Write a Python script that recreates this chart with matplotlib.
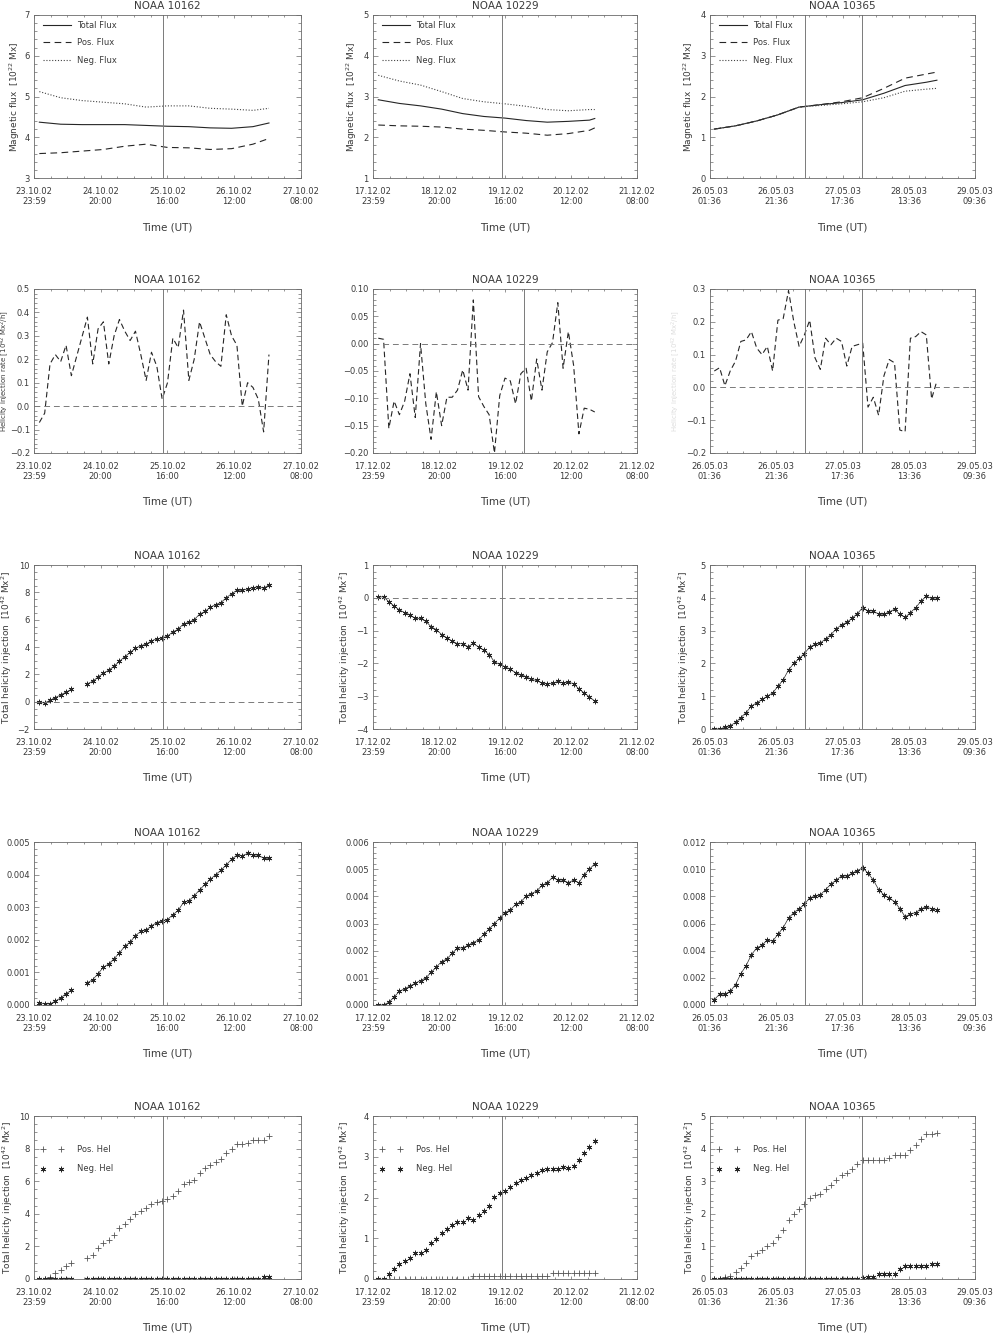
import numpy as np
import matplotlib
matplotlib.use("Agg")
import matplotlib.pyplot as plt
from matplotlib.lines import Line2D
from matplotlib.ticker import MultipleLocator, AutoMinorLocator, FuncFormatter

plt.rcParams["font.family"] = ["DejaVu Sans"]
plt.rcParams["mathtext.default"] = "regular"

# ---- data (hours since first x tick) ----
names = ["NOAA 10162", "NOAA 10229", "NOAA 10365"]

xlabels_10162 = ["23.10.02\n23:59", "24.10.02\n20:00", "25.10.02\n16:00", "26.10.02\n12:00", "27.10.02\n08:00"]
xlabels_10229 = ["17.12.02\n23:59", "18.12.02\n20:00", "19.12.02\n16:00", "20.12.02\n12:00", "21.12.02\n08:00"]
xlabels_10365 = ["26.05.03\n01:36", "26.05.03\n21:36", "27.05.03\n17:36", "28.05.03\n13:36", "29.05.03\n09:36"]

# 96 min magnetogram times
t_10162 = [1.6, 3.2, 4.8, 6.4, 8.0, 9.6, 11.2, 12.8, 14.4, 16.0, 17.6, 19.2, 20.8, 22.4,
           24.0, 25.6, 27.2, 28.8, 30.4, 32.0, 33.6, 35.2, 36.8, 38.4, 40.0, 41.6, 43.2,
           44.8, 46.4, 48.0, 49.6, 51.2, 52.8, 54.4, 56.0, 57.6, 59.2, 60.8, 62.4, 64.0,
           65.6, 67.2, 68.8, 70.4]
t_10229 = [1.6, 3.2, 4.8, 6.4, 8.0, 9.6, 11.2, 12.8, 14.4, 16.0, 17.6, 19.2, 20.8, 22.4,
           24.0, 25.6, 27.2, 28.8, 30.4, 32.0, 33.6, 35.2, 36.8, 38.4, 40.0, 41.6, 43.2,
           44.8, 46.4, 48.0, 49.6, 51.2, 52.8, 54.4, 56.0, 57.6, 59.2, 60.8, 62.4, 64.0,
           65.6, 67.2]
t_10365 = [1.3, 2.9, 4.5, 6.1, 7.7, 9.3, 10.9, 12.5, 14.1, 15.7, 17.3, 18.9, 20.5, 22.1,
           23.7, 25.3, 26.9, 28.5, 30.1, 31.7, 33.3, 34.9, 36.5, 38.1, 39.7, 41.3, 42.9,
           44.5, 46.1, 47.7, 49.3, 50.9, 52.5, 54.1, 55.7, 57.3, 58.9, 60.5, 62.1, 63.7,
           65.3, 66.9, 68.5]

# flux curves [1e22 Mx]
tf_10162 = [1.6, 8.0, 14.4, 20.8, 27.2, 33.6, 40.0, 46.4, 52.8, 59.2, 65.6, 70.4]
ftot_10162 = [4.37, 4.32, 4.31, 4.31, 4.31, 4.29, 4.27, 4.26, 4.23, 4.22, 4.26, 4.35]
fpos_10162 = [3.60, 3.62, 3.66, 3.70, 3.78, 3.83, 3.75, 3.74, 3.70, 3.72, 3.83, 3.97]
fneg_10162 = [5.12, 4.97, 4.90, 4.86, 4.82, 4.74, 4.77, 4.77, 4.71, 4.69, 4.66, 4.71]

tf_10229 = [1.6, 8.0, 14.4, 20.8, 27.2, 33.6, 40.0, 46.4, 52.8, 59.2, 65.6, 67.2]
ftot_10229 = [2.92, 2.83, 2.77, 2.69, 2.58, 2.51, 2.47, 2.41, 2.37, 2.39, 2.42, 2.46]
fpos_10229 = [2.30, 2.28, 2.27, 2.25, 2.20, 2.17, 2.13, 2.10, 2.05, 2.09, 2.17, 2.23]
fneg_10229 = [3.52, 3.38, 3.28, 3.12, 2.95, 2.87, 2.82, 2.76, 2.68, 2.65, 2.68, 2.68]

tf_10365 = [1.3, 7.7, 14.1, 20.5, 26.9, 33.3, 39.7, 46.1, 52.5, 58.9, 65.3, 68.5]
ftot_10365 = [1.20, 1.28, 1.40, 1.55, 1.74, 1.80, 1.85, 1.92, 2.08, 2.27, 2.35, 2.40]
fpos_10365 = [1.20, 1.28, 1.40, 1.55, 1.74, 1.80, 1.87, 1.97, 2.20, 2.45, 2.55, 2.60]
fneg_10365 = [1.20, 1.28, 1.40, 1.55, 1.74, 1.78, 1.82, 1.87, 1.97, 2.13, 2.18, 2.20]

# helicity injection rate
rate_10162 = [-0.07, -0.03, 0.18, 0.22, 0.19, 0.26, 0.13, None, None,
              0.38, 0.18, 0.33, 0.36, 0.18, 0.30, 0.37, 0.32, 0.28, 0.32, 0.22, 0.11,
              0.23, 0.17, 0.03, 0.10, 0.29, 0.25, 0.41, 0.11, 0.20, 0.36, 0.29, 0.22,
              0.19, 0.17, 0.39, 0.30, 0.26, 0.00, 0.10, 0.08, 0.03, -0.11, 0.22]
rate_10229 = [0.010, 0.008, -0.155, -0.105, -0.130, -0.105, -0.055, -0.135, 0.000,
              -0.110, -0.175, -0.088, -0.150, -0.098, -0.098, -0.085, -0.048, -0.085,
              0.080, -0.097, -0.115, -0.130, -0.200, -0.095, -0.063, -0.068, -0.110,
              -0.055, -0.045, -0.105, -0.028, -0.085, -0.015, 0.002, 0.075, -0.045,
              0.022, -0.040, -0.165, -0.118, -0.120, -0.125]
rate_10365 = [0.050, 0.060, 0.005, 0.050, 0.080, 0.140, 0.145, 0.170, 0.120, 0.100,
              0.125, 0.050, 0.205, 0.210, 0.295, 0.200, 0.125, 0.160, 0.205, 0.090,
              0.055, 0.150, 0.130, 0.150, 0.140, 0.065, 0.125, 0.130, 0.135, -0.060,
              -0.030, -0.085, 0.035, 0.085, 0.075, -0.130, -0.135, 0.150, 0.155, 0.170,
              0.160, -0.035, 0.020]

# total helicity injection [1e42 Mx^2]
tot_10162 = [-0.05, -0.10, 0.10, 0.30, 0.50, 0.70, 0.90, None, None,
             1.30, 1.50, 1.80, 2.10, 2.30, 2.60, 2.95, 3.30, 3.60, 3.90, 4.10, 4.20,
             4.45, 4.60, 4.65, 4.80, 5.10, 5.30, 5.70, 5.80, 6.00, 6.40, 6.60, 6.90,
             7.10, 7.25, 7.60, 7.90, 8.15, 8.15, 8.25, 8.35, 8.40, 8.30, 8.55]
tot_10229 = [0.02, 0.03, -0.12, -0.25, -0.37, -0.45, -0.52, -0.63, -0.63, -0.72,
             -0.88, -0.97, -1.12, -1.22, -1.32, -1.40, -1.40, -1.49, -1.39, -1.50,
             -1.60, -1.73, -1.95, -2.03, -2.10, -2.18, -2.28, -2.35, -2.40, -2.49,
             -2.52, -2.60, -2.62, -2.61, -2.55, -2.60, -2.57, -2.62, -2.78, -2.90,
             -3.02, -3.15]
tot_10365 = [0.00, 0.00, 0.05, 0.10, 0.20, 0.35, 0.50, 0.70, 0.80, 0.90, 1.00, 1.10,
             1.30, 1.50, 1.80, 2.00, 2.15, 2.30, 2.50, 2.58, 2.62, 2.75, 2.88, 3.05,
             3.18, 3.25, 3.38, 3.52, 3.70, 3.60, 3.60, 3.50, 3.50, 3.57, 3.65, 3.50,
             3.40, 3.55, 3.70, 3.90, 4.05, 3.98, 4.00]

# normalised helicity injection
norm_10162 = [0.00005, 0.00004, 0.00003, 0.00012, 0.00022, 0.00035, 0.00045, None, None,
              0.00068, 0.00078, 0.00096, 0.00116, 0.00126, 0.00142, 0.00160, 0.00180,
              0.00193, 0.00213, 0.00226, 0.00230, 0.00243, 0.00253, 0.00258, 0.00262,
              0.00277, 0.00290, 0.00315, 0.00320, 0.00335, 0.00353, 0.00370, 0.00385,
              0.00400, 0.00413, 0.00430, 0.00447, 0.00460, 0.00458, 0.00465, 0.00460,
              0.00460, 0.00450, 0.00450]
norm_10229 = [0.0000, 0.0000, 0.0001, 0.0003, 0.0005, 0.0006, 0.0007, 0.0008, 0.0009,
              0.0010, 0.0012, 0.0014, 0.0016, 0.0017, 0.0019, 0.0021, 0.0021, 0.0022,
              0.0023, 0.0024, 0.0026, 0.0028, 0.0030, 0.0032, 0.0034, 0.0035, 0.0037,
              0.0038, 0.0040, 0.0041, 0.0042, 0.0044, 0.0045, 0.0047, 0.0046, 0.0046,
              0.0045, 0.0046, 0.0045, 0.0048, 0.0050, 0.0052]
norm_10365 = [0.0004, 0.0008, 0.0008, 0.0010, 0.0015, 0.0023, 0.0029, 0.0037, 0.0042,
              0.0044, 0.0048, 0.0047, 0.0052, 0.0057, 0.0064, 0.0068, 0.0071, 0.0074,
              0.0079, 0.0080, 0.0081, 0.0085, 0.0089, 0.0092, 0.0095, 0.0095, 0.0097,
              0.0099, 0.0101, 0.0097, 0.0092, 0.0085, 0.0081, 0.0079, 0.0076, 0.0071,
              0.0065, 0.0067, 0.0068, 0.0071, 0.0072, 0.0071, 0.0070]

# positive / negative helicity injection [1e42 Mx^2]
pos_10162 = [0.00, 0.00, 0.10, 0.35, 0.55, 0.80, 1.00, None, None,
             1.30, 1.50, 1.90, 2.20, 2.40, 2.70, 3.10, 3.40, 3.70, 4.00, 4.20, 4.35,
             4.60, 4.75, 4.80, 4.90, 5.10, 5.40, 5.80, 5.95, 6.10, 6.50, 6.80, 7.00,
             7.15, 7.35, 7.75, 8.00, 8.30, 8.30, 8.35, 8.50, 8.50, 8.50, 8.75]
neg_10162 = [0.02, 0.02, 0.02, 0.02, 0.02, 0.02, 0.02, None, None,
             0.02, 0.02, 0.02, 0.02, 0.02, 0.02, 0.02, 0.02, 0.02, 0.02, 0.02, 0.02,
             0.02, 0.02, 0.02, 0.02, 0.02, 0.02, 0.02, 0.02, 0.02, 0.02, 0.02, 0.02,
             0.02, 0.02, 0.02, 0.02, 0.02, 0.02, 0.02, 0.02, 0.02, 0.10, 0.10]
pos_10229 = [0.00, 0.00, 0.00, 0.00, 0.00, 0.00, 0.00, 0.00, 0.00, 0.00, 0.00, 0.00,
             0.00, 0.00, 0.00, 0.00, 0.00, 0.00, 0.07, 0.07, 0.07, 0.07, 0.07, 0.07,
             0.07, 0.07, 0.07, 0.07, 0.07, 0.07, 0.07, 0.07, 0.07, 0.14, 0.14, 0.14,
             0.15, 0.15, 0.15, 0.15, 0.15, 0.15]
neg_10229 = [0.00, 0.00, 0.12, 0.25, 0.37, 0.45, 0.52, 0.63, 0.63, 0.72, 0.88, 0.97,
             1.12, 1.22, 1.32, 1.40, 1.40, 1.49, 1.46, 1.57, 1.67, 1.80, 2.02, 2.10,
             2.17, 2.25, 2.35, 2.42, 2.47, 2.56, 2.59, 2.67, 2.69, 2.71, 2.70, 2.75,
             2.72, 2.77, 2.93, 3.10, 3.25, 3.38]
pos_10365 = [0.00, 0.00, 0.05, 0.10, 0.20, 0.35, 0.50, 0.70, 0.80, 0.90, 1.00, 1.10,
             1.30, 1.50, 1.80, 2.00, 2.15, 2.30, 2.50, 2.58, 2.62, 2.75, 2.88, 3.05,
             3.18, 3.25, 3.38, 3.52, 3.65, 3.65, 3.65, 3.65, 3.65, 3.72, 3.80, 3.80,
             3.80, 3.95, 4.10, 4.30, 4.45, 4.45, 4.47]
neg_10365 = [0.00, 0.00, 0.00, 0.00, 0.00, 0.00, 0.00, 0.00, 0.00, 0.00, 0.00, 0.00,
             0.00, 0.00, 0.00, 0.00, 0.00, 0.00, 0.00, 0.00, 0.00, 0.00, 0.00, 0.00,
             0.00, 0.00, 0.00, 0.00, 0.02, 0.05, 0.05, 0.15, 0.15, 0.15, 0.15, 0.30,
             0.40, 0.40, 0.40, 0.40, 0.40, 0.47, 0.47]

# flare times (vertical lines)
flares_10162 = [38.8]
flares_10229 = [39.0]
flares_10229_rate = [45.8]
flares_10365 = [28.8, 46.0]

# ---- layout (pixels) ----
W, H = 993, 1334
col_l = [34, 373, 710]
col_r = [301, 637, 975]
row_t = [15, 289, 565, 842, 1116]
row_b = [178, 453, 729, 1005, 1279]

TXT = "#3a3a3a"
AXC = "#6a6a6a"
LC = "#262626"
VC = "#7a7a7a"
AST = (6, 2, 0)

fig = plt.figure(figsize=(W / 100, H / 100), dpi=100)


def fmt(spec):
    return FuncFormatter(lambda v, p: (spec % v).replace("-", "\u2212"))


def make_panel(r, c, name, xlabels, ylim, ystep, yfmt):
    l, rr, t, b = col_l[c], col_r[c], row_t[r], row_b[r]
    ax = fig.add_axes([l / W, 1 - b / H, (rr - l) / W, (b - t) / H])
    ax.set_xlim(0, 80)
    ax.set_xticks([0, 20, 40, 60, 80])
    ax.set_xticklabels(xlabels)
    ax.xaxis.set_minor_locator(MultipleLocator(5))
    ax.set_ylim(*ylim)
    ax.yaxis.set_major_locator(MultipleLocator(ystep))
    ax.yaxis.set_minor_locator(AutoMinorLocator())
    ax.yaxis.set_major_formatter(fmt(yfmt))
    ax.tick_params(which="both", direction="in", top=True, right=True,
                   colors=AXC, labelcolor=TXT, labelsize=6, width=0.5)
    ax.tick_params(axis="x", which="major", length=2.4, pad=6.5)
    ax.tick_params(axis="x", which="minor", length=1.2)
    ax.tick_params(axis="y", which="major", length=3.8, pad=3)
    ax.tick_params(axis="y", which="minor", length=1.9)
    for s in ax.spines.values():
        s.set_color(AXC)
        s.set_linewidth(0.6)
    ax.set_title(name, fontsize=7.5, color=TXT, pad=4)
    fig.text((l + rr) / 2 / W, 1 - (b + 49) / H, "Time (UT)", ha="center",
             va="center", fontsize=7.5, color=TXT)
    return ax


def ylabel(px, r, text, color=TXT, size=6.5):
    yc = (row_t[r] + row_b[r]) / 2
    fig.text(px / W, 1 - yc / H, text, rotation=90, ha="center", va="center",
             fontsize=size, color=color)


def vlines(ax, times):
    for v in times:
        ax.axvline(v, color=VC, lw=0.7)


def arr(vals):
    return np.array([np.nan if v is None else v for v in vals], dtype=float)


cols = [
    (t_10162, xlabels_10162, tf_10162, ftot_10162, fpos_10162, fneg_10162,
     rate_10162, tot_10162, norm_10162, pos_10162, neg_10162, flares_10162, flares_10162),
    (t_10229, xlabels_10229, tf_10229, ftot_10229, fpos_10229, fneg_10229,
     rate_10229, tot_10229, norm_10229, pos_10229, neg_10229, flares_10229, flares_10229_rate),
    (t_10365, xlabels_10365, tf_10365, ftot_10365, fpos_10365, fneg_10365,
     rate_10365, tot_10365, norm_10365, pos_10365, neg_10365, flares_10365, flares_10365),
]

flux_ylim = [(3, 7), (1, 5), (0, 4)]
rate_ylim = [(-0.2, 0.5), (-0.2, 0.1), (-0.2, 0.3)]
rate_step = [0.1, 0.05, 0.1]
rate_fmt = ["%.1f", "%.2f", "%.1f"]
tot_ylim = [(-2, 10), (-4, 1), (0, 5)]
tot_step = [2, 1, 1]
norm_ylim = [(0, 0.005), (0, 0.006), (0, 0.012)]
norm_step = [0.001, 0.001, 0.002]
pn_ylim = [(0, 10), (0, 4), (0, 5)]
pn_step = [2, 1, 1]

flux_lab_x = [15, 352, 689]
tot_lab_x = [7, 345, 684]
pn_lab_x = [8, 345, 690]

for c, (t, xl, tf, ftot, fpos, fneg, rate, tot, norm, pos, neg, fl, fl_rate) in enumerate(cols):
    t = np.array(t)
    width = col_r[c] - col_l[c]

    # row 1: magnetic flux
    ax = make_panel(0, c, names[c], xl, flux_ylim[c], 1, "%d")
    ax.plot(tf, ftot, color=LC, lw=0.8, label="Total Flux")
    ax.plot(tf, fpos, color=LC, lw=0.8, ls=(0, (6, 4)), label="Pos. Flux")
    ax.plot(tf, fneg, color="#444444", lw=0.8, ls=(0, (1, 1.6)), label="Neg. Flux")
    vlines(ax, fl)
    ax.legend(loc="upper left", bbox_to_anchor=(9 / width, 1 - 5.5 / 163),
              frameon=False, fontsize=6, handlelength=3.4, handletextpad=0.72,
              labelspacing=1.04, borderpad=0, borderaxespad=0, labelcolor=TXT)
    ylabel(flux_lab_x[c], 0, "Magnetic flux  [10$^{22}$ Mx]")

    # row 2: helicity injection rate
    ax = make_panel(1, c, names[c], xl, rate_ylim[c], rate_step[c], rate_fmt[c])
    rv = arr(rate)
    ok = ~np.isnan(rv)
    ax.plot(t[ok], rv[ok], color=LC, lw=0.8, ls=(0, (5, 3)))
    ax.axhline(0, color=VC, lw=0.7, ls=(0, (6, 4)))
    vlines(ax, fl_rate)

    # row 3: total helicity injection
    ax = make_panel(2, c, names[c], xl, tot_ylim[c], tot_step[c], "%d")
    ax.plot(t, arr(tot), color=LC, lw=0.5, marker=AST, ms=4, mew=0.6)
    if tot_ylim[c][0] < 0:
        ax.axhline(0, color=VC, lw=0.7, ls=(0, (6, 4)))
    vlines(ax, fl)
    ylabel(tot_lab_x[c], 2, "Total helicity injection  [10$^{42}$ Mx$^2$]")

    # row 4: normalised helicity injection
    ax = make_panel(3, c, names[c], xl, norm_ylim[c], norm_step[c], "%.3f")
    ax.plot(t, arr(norm), color=LC, lw=0.5, marker=AST, ms=4, mew=0.6)
    vlines(ax, fl)

    # row 5: positive and negative helicity injection
    ax = make_panel(4, c, names[c], xl, pn_ylim[c], pn_step[c], "%d")
    ax.plot(t, arr(pos), ls="none", marker="+", ms=4.5, mew=0.6, color="#555555")
    ax.plot(t, arr(neg), ls="none", marker=AST, ms=4, mew=0.6, color=LC)
    vlines(ax, fl)
    handles = [Line2D([], [], ls="none", marker="+", ms=4.5, mew=0.6, color="#555555"),
               Line2D([], [], ls="none", marker=AST, ms=4, mew=0.6, color=LC)]
    ax.legend(handles, ["Pos. Hel", "Neg. Hel"], loc="upper left",
              bbox_to_anchor=(6.5 / width, 1 - 28.8 / 163), numpoints=2,
              frameon=False, fontsize=6, handlelength=2.76, handletextpad=1.62,
              labelspacing=1.28, borderpad=0, borderaxespad=0, labelcolor=TXT)
    ylabel(pn_lab_x[c], 4, "Total helicity injection  [10$^{42}$ Mx$^2$]")

# rate axis labels (faint / squeezed at the edge in the original)
rate_label = "Helicity injection rate [10$^{42}$ Mx$^2$/h]"
ylabel(5, 1, rate_label, size=5)
ylabel(676, 1, rate_label, color="#dddddd", size=5)

fig.savefig("out.png", dpi=100)
